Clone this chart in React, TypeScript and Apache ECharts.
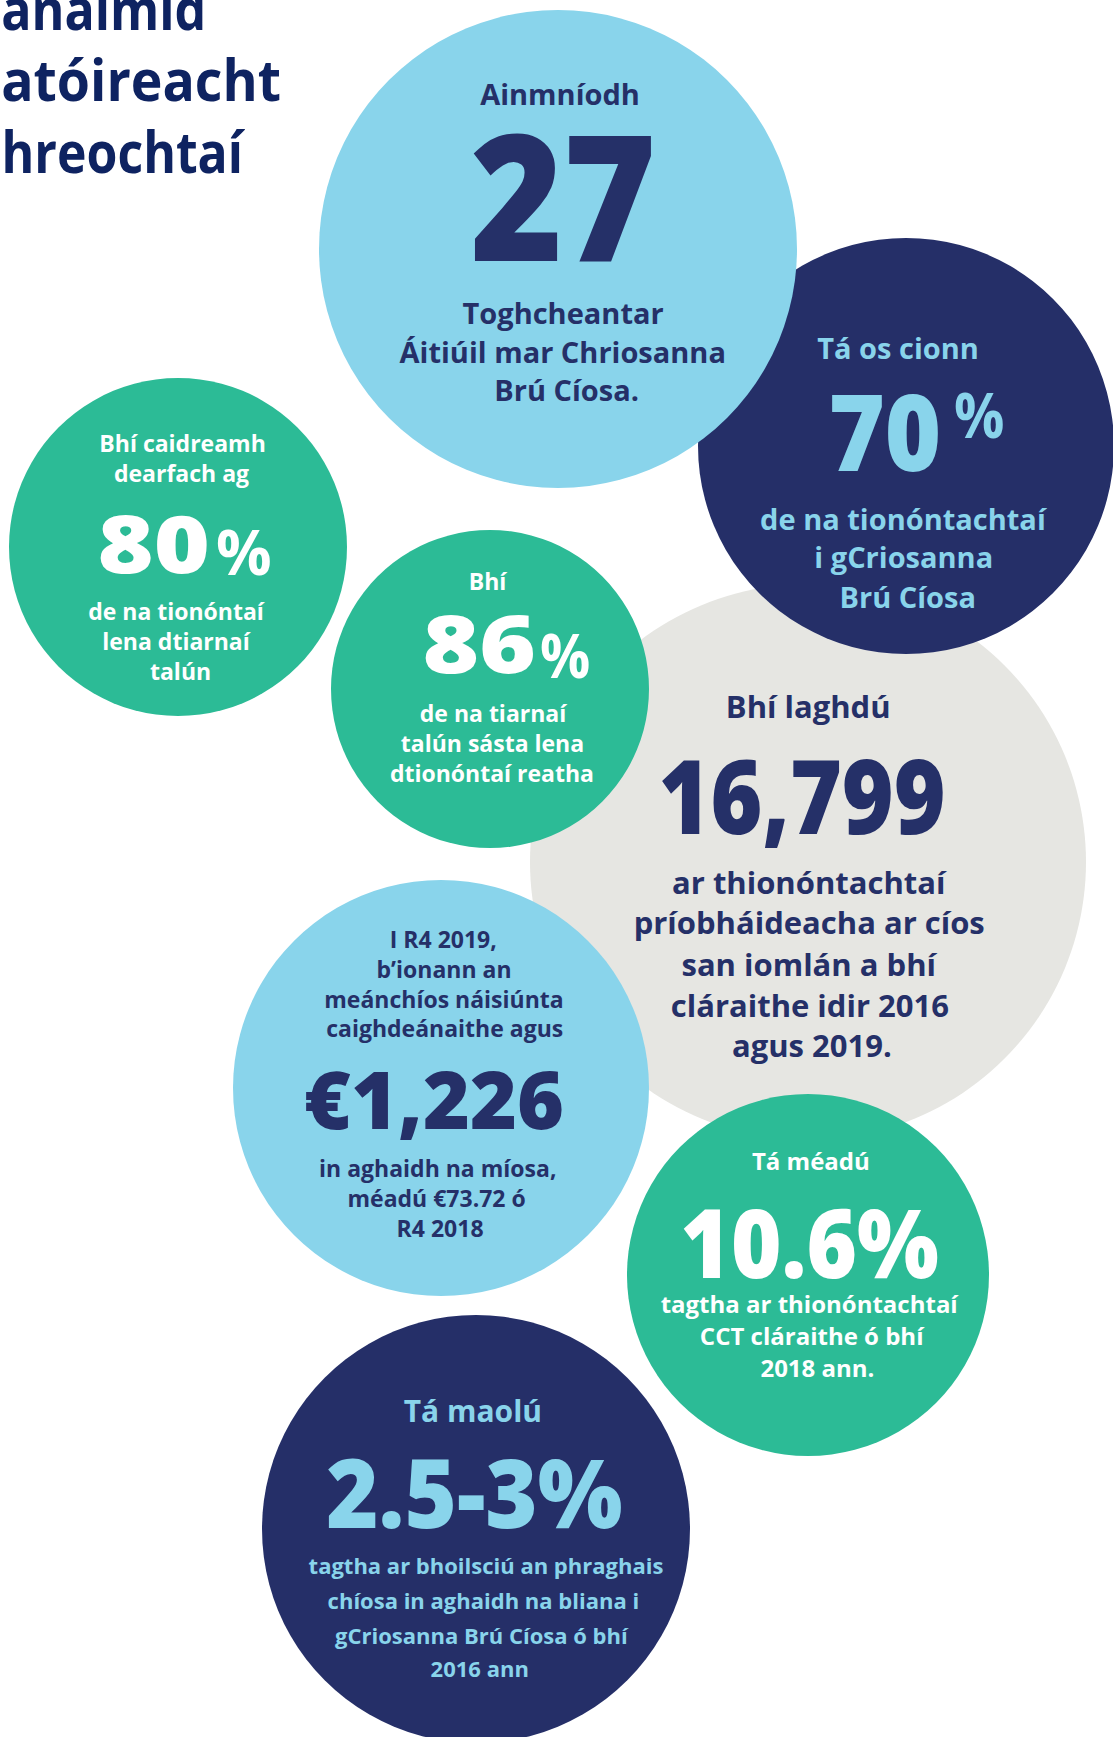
import React, { useEffect, useRef } from 'react';
import * as echarts from 'echarts';

const W = 1113;
const H = 1737;

// ---------- content ----------
const titleLines = ['anaimid', 'atóireacht', 'hreochtaí'];

// bubbles listed in drawing order (back to front)
const figures = ['16,799', '70', '27', '80', '86', '€1,226', '10.6%', '2.5-3%'];
const percentSigns = ['', '%', '', '%', '%', '', '', ''];

const introLines = [
  ['Bhí laghdú'],
  ['Tá os cionn'],
  ['Ainmníodh'],
  ['Bhí caidreamh', 'dearfach ag'],
  ['Bhí'],
  ['I R4 2019,', 'b’ionann an', 'meánchíos náisiúnta', 'caighdeánaithe agus'],
  ['Tá méadú'],
  ['Tá maolú'],
];

const outroLines = [
  ['ar thionóntachtaí', 'príobháideacha ar cíos', 'san iomlán a bhí', 'cláraithe idir 2016', 'agus 2019.'],
  ['de na tionóntachtaí', 'i gCriosanna', 'Brú Cíosa'],
  ['Toghcheantar', 'Áitiúil mar Chriosanna', 'Brú Cíosa.'],
  ['de na tionóntaí', 'lena dtiarnaí', 'talún'],
  ['de na tiarnaí', 'talún sásta lena', 'dtionóntaí reatha'],
  ['in aghaidh na míosa,', 'méadú €73.72 ó', 'R4 2018'],
  ['tagtha ar thionóntachtaí', 'CCT cláraithe ó bhí', '2018 ann.'],
  ['tagtha ar bhoilsciú an phraghais', 'chíosa in aghaidh na bliana i', 'gCriosanna Brú Cíosa ó bhí', '2016 ann'],
];

// ---------- layout (pixels) ----------
const bubbleCx = [808, 906, 558, 178, 490, 441, 808, 476];
const bubbleCy = [862, 446, 249, 547, 689, 1088, 1275, 1529];
const bubbleR = [278, 208, 239, 169, 159, 208, 181, 214];
const bubbleTone = ['grey', 'navy', 'sky', 'green', 'green', 'sky', 'green', 'navy'];

const introBase = [[718], [358], [104], [452, 482], [590], [948, 978, 1008, 1037], [1170], [1422]];
const introCx = [[808], [897], [559], [183, 182], [489], [444, 444, 444, 445], [810], [472]];
const introSize = [31, 29, 29, 23, 23, 23, 24, 30];

const figLeft = [662, 832, 473, 100, 425, 306, 683, 328];
const figRight = [943, 938, 651, 207, 533, 562, 938, 622];
const figBase = [832, 470, 259, 572, 672, 1128, 1277, 1527];
const figCap = [74, 77, 126, 57, 57, 58, 69, 69];

const pctLeft = [0, 955, 0, 217, 541, 0, 0, 0];
const pctRight = [0, 1003, 0, 270, 589, 0, 0, 0];
const pctBase = [0, 437, 0, 574, 677, 0, 0, 0];
const pctHeight = [0, 46, 0, 46, 45, 0, 0, 0];

const outroBase = [
  [894, 934, 976, 1017, 1057],
  [529, 567, 607],
  [323, 362, 400],
  [620, 650, 680],
  [722, 752, 782],
  [1177, 1207, 1237],
  [1313, 1345, 1377],
  [1573, 1608, 1643, 1676],
];
const outroCx = [
  [810, 810, 810, 810, 812],
  [904, 904, 908],
  [563, 562, 567],
  [177, 177, 180],
  [494, 492, 492],
  [438, 437, 441],
  [810, 813, 817],
  [486, 483, 482, 479],
];
const outroSize = [31, 29, 29, 23, 23, 23, 24, 22];

const titleLeft = [3, 3, 5];
const titleRight = [203, 280, 245];
const titleBase = [29, 100, 172];
const titleSize = 58;

// ---------- styles ----------
const TONE: Record<string, string> = {
  grey: '#e6e6e2',
  navy: '#252f68',
  sky: '#89d4eb',
  green: '#2cbb96',
};
const INK: Record<string, string> = {
  grey: '#253068',
  navy: '#89d4eb',
  sky: '#253068',
  green: '#ffffff',
};
const TITLE_COLOR = '#0e2361';
const FONT = "'Open Sans', 'Noto Sans', sans-serif";
const BASELINE_FIX = 0.09;

export default function App() {
  const ref = useRef<HTMLDivElement>(null);

  useEffect(() => {
    document.body.style.margin = '0';
    document.body.style.overflow = 'hidden';
    const el = ref.current;
    if (!el) return;
    const chart = echarts.init(el, undefined, { renderer: 'svg', width: W, height: H });

    const canvas = document.createElement('canvas');
    const ctx = canvas.getContext('2d') as CanvasRenderingContext2D;
    const fontStr = (w: number, s: number) => `${w} ${s}px ${FONT}`;
    const measure = (text: string, w: number, s: number) => {
      ctx.font = fontStr(w, s);
      ctx.textBaseline = 'alphabetic';
      const a = ctx.measureText(text);
      ctx.textBaseline = 'middle';
      const b = ctx.measureText(text);
      return {
        l: a.actualBoundingBoxLeft,
        r: a.actualBoundingBoxRight,
        asc: a.actualBoundingBoxAscent,
        mid: a.actualBoundingBoxAscent - b.actualBoundingBoxAscent,
      };
    };
    const sizeForHeight = (ref: string, w: number, h: number) => {
      const m = measure(ref, w, 100);
      return (100 * h) / m.asc;
    };

    const elements: any[] = [];
    const addText = (
      text: string,
      weight: number,
      size: number,
      color: string,
      base: number,
      o: { cx?: number; left?: number; right?: number; alignRight?: number }
    ) => {
      const m = measure(text, weight, size);
      let sx = 1;
      let X = 0;
      if (o.left != null && o.right != null) {
        sx = (o.right - o.left) / (m.l + m.r);
        X = o.left + m.l * sx;
      } else if (o.alignRight != null) {
        X = o.alignRight - m.r;
      } else {
        X = (o.cx as number) - (sx * (m.r - m.l)) / 2;
      }
      elements.push({
        type: 'text',
        x: X,
        y: base - m.mid - BASELINE_FIX * size,
        scaleX: sx,
        z: 100,
        silent: true,
        style: {
          text,
          x: 0,
          y: 0,
          fill: color,
          fontSize: size,
          fontWeight: weight,
          fontFamily: FONT,
          textAlign: 'left',
          textVerticalAlign: 'middle',
          align: 'left',
          verticalAlign: 'middle',
        },
      });
    };

    // title (fitted into the visible strip at the left edge)
    titleLines.forEach((t, i) => {
      addText(t, 700, titleSize, TITLE_COLOR, titleBase[i], { left: titleLeft[i], right: titleRight[i] });
    });

    figures.forEach((fig, i) => {
      const ink = INK[bubbleTone[i]];
      introLines[i].forEach((t, j) => {
        addText(t, 700, introSize[i], ink, introBase[i][j], { cx: introCx[i][j] });
      });
      const fs = sizeForHeight('0', 800, figCap[i]);
      addText(fig, 800, fs, ink, figBase[i], { left: figLeft[i], right: figRight[i] });
      if (percentSigns[i]) {
        const ps = sizeForHeight('%', 700, pctHeight[i]);
        addText(percentSigns[i], 700, ps, ink, pctBase[i], { left: pctLeft[i], right: pctRight[i] });
      }
      outroLines[i].forEach((t, j) => {
        addText(t, 700, outroSize[i], ink, outroBase[i][j], { cx: outroCx[i][j] });
      });
    });

    chart.setOption({
      animation: false,
      grid: { left: 0, right: 0, top: 0, bottom: 0, containLabel: false },
      xAxis: { type: 'value', min: 0, max: W, show: false },
      yAxis: { type: 'value', min: 0, max: H, inverse: true, show: false },
      tooltip: { show: false },
      series: [
        {
          type: 'scatter',
          symbol: 'circle',
          silent: true,
          clip: false,
          itemStyle: { opacity: 1 },
          emphasis: { disabled: true },
          data: figures.map((f, i) => ({
            name: f,
            value: [bubbleCx[i], bubbleCy[i]],
            symbolSize: bubbleR[i] * 2,
            itemStyle: { color: TONE[bubbleTone[i]], opacity: 1 },
          })),
          z: 2,
        },
      ],
      graphic: { elements },
    });

    return () => {
      chart.dispose();
    };
  }, []);

  return <div ref={ref} style={{ width: W, height: H }} />;
}
